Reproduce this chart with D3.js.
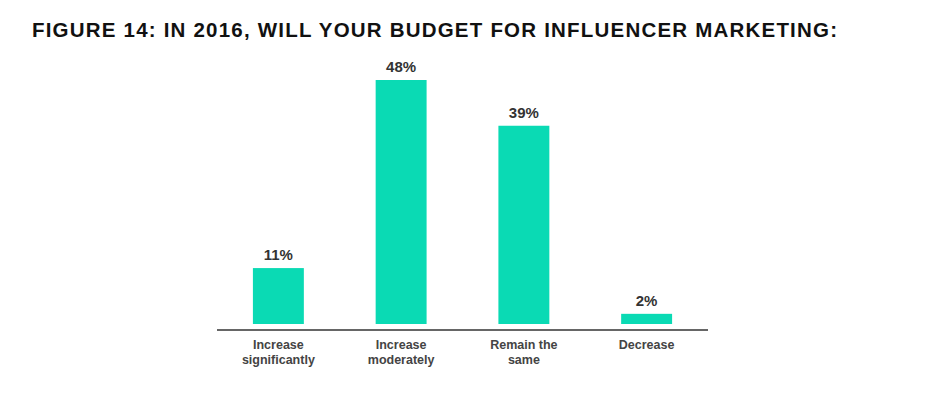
<!DOCTYPE html>
<html>
<head>
<meta charset="utf-8">
<script src="https://cdn.jsdelivr.net/npm/d3@7"></script>
<style>
  body { margin: 0; background: #fff; }
  svg { display: block; }
</style>
</head>
<body>
<svg id="chart"></svg>
<script>
// data
var categories = ["Increase significantly", "Increase moderately", "Remain the same", "Decrease"];
var labelLines = [["Increase", "significantly"], ["Increase", "moderately"], ["Remain the", "same"], ["Decrease"]];
var values = [11, 48, 39, 2];
var title = "FIGURE 14: IN 2016, WILL YOUR BUDGET FOR INFLUENCER MARKETING:";

var width = 932, height = 395;
var svg = d3.select('#chart')
    .attr("width", width)
    .attr("height", height);

// title
svg.append("text")
    .attr("x", 32)
    .attr("y", 37)
    .attr("textLength", 805)
    .attr("lengthAdjust", "spacing")
    .style("font-family", "'Liberation Sans', Arial, sans-serif")
    .style("font-weight", "bold")
    .style("font-size", "20.5px")
    .style("fill", "#111")
    .text(title);

// scales
var x = d3.scaleBand()
    .domain(categories)
    .range([217, 708])
    .paddingInner(0.585)
    .paddingOuter(0.2925);

var y = d3.scaleLinear()
    .domain([0, 48])
    .range([324, 80]);

// bars
svg.selectAll("rect.bar")
    .data(values)
    .enter().append("rect")
    .attr("class", "bar")
    .attr("x", function(d, i) { return x(categories[i]); })
    .attr("width", x.bandwidth())
    .attr("y", function(d) { return y(d); })
    .attr("height", function(d) { return y(0) - y(d); })
    .attr("fill", "#0adab4");

// value labels
svg.selectAll("text.val")
    .data(values)
    .enter().append("text")
    .attr("class", "val")
    .attr("x", function(d, i) { return x(categories[i]) + x.bandwidth() / 2; })
    .attr("y", function(d) { return y(d) - 8; })
    .attr("text-anchor", "middle")
    .style("font-family", "'Liberation Sans', Arial, sans-serif")
    .style("font-weight", "bold")
    .style("font-size", "15px")
    .style("fill", "#333")
    .text(function(d) { return d + "%"; });

// x axis line
svg.append("line")
    .attr("x1", x.range()[0])
    .attr("x2", x.range()[1])
    .attr("y1", 330)
    .attr("y2", 330)
    .attr("stroke", "#666")
    .attr("stroke-width", 2);

// category labels
var lab = svg.selectAll("text.cat")
    .data(categories)
    .enter().append("text")
    .attr("class", "cat")
    .attr("x", function(d) { return x(d) + x.bandwidth() / 2; })
    .attr("y", 349)
    .attr("text-anchor", "middle")
    .style("font-family", "'Liberation Sans', Arial, sans-serif")
    .style("font-weight", "bold")
    .style("font-size", "12.5px")
    .style("fill", "#444");

lab.each(function(d, i) {
    var t = d3.select(this);
    labelLines[i].forEach(function(line, j) {
        t.append("tspan")
            .attr("x", x(d) + x.bandwidth() / 2)
            .attr("dy", j == 0 ? 0 : 15)
            .text(line);
    });
});
</script>
</body>
</html>
